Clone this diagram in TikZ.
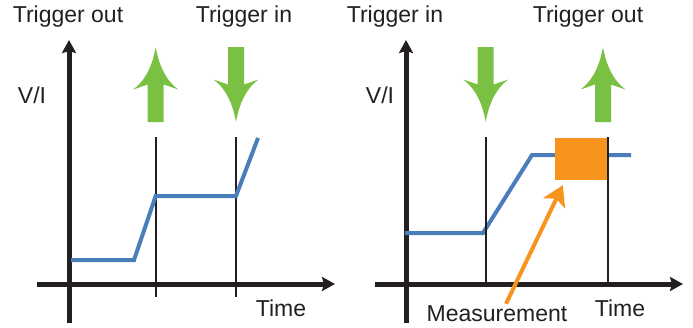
\documentclass[tikz,border=0pt]{standalone}
\usepackage{fontspec}
\setmainfont{Liberation Sans}
\usetikzlibrary{arrows.meta}

\definecolor{trigGreen}{HTML}{7AC143}
\definecolor{curveBlue}{HTML}{4A7EBB}
\definecolor{measOrange}{HTML}{F7941D}
\definecolor{axisBlack}{HTML}{231F20}

\tikzset{
  axis/.style={line width=5pt, draw=axisBlack, -{Stealth[length=13pt,width=14pt,inset=2pt]}},
  marker/.style={line width=2pt, draw=axisBlack},
  curve/.style={line width=4pt, draw=curveBlue, line join=miter},
  lbl/.style={font=\fontsize{23}{26}\selectfont, text=axisBlack, inner sep=0pt},
  measarrow/.style={line width=4pt, draw=measOrange, -{Stealth[length=20pt,width=24pt,inset=5pt]}},
  trig/.pic={
    \fill[trigGreen] (0,-37.5) .. controls (-3,-20) and (-10,-4) .. (-22.5,5)
      -- (-8,0) -- (-8,37.5) -- (8,37.5) -- (8,0) -- (22.5,5)
      .. controls (10,-4) and (3,-20) .. cycle;
  }
}

\begin{document}
\begin{tikzpicture}[x=1pt, y=-1pt]
\useasboundingbox (0,0) rectangle (693,327);

% left: trigger out, then trigger in
\draw[axis] (69,323) -- (69,40);
\draw[axis] (37,284) -- (335,284);
\draw[marker] (155.7,137) -- (155.7,297);
\draw[marker] (236,137) -- (236,297);
\draw[curve] (71,260) -- (134,260) -- (155.7,196) -- (236,196) -- (258,138);
\pic at (155.7,84.5) {trig};
\pic[rotate=180] at (236,84.5) {trig};
\node[lbl] (outL) at (68,17) {Trigger out};
\node[lbl] (inL) at (244,17) {Trigger in};
\node[lbl] (viL) at (32,95) {V/I};
\node[lbl] (timeL) at (281,308) {Time};

% right: trigger in, measure, trigger out
\draw[axis] (406,323) -- (406,40);
\draw[axis] (375,284) -- (683,284);
\draw[curve] (405,233) -- (483,233) -- (532,155) -- (631,155);
\node[fill=measOrange, minimum width=52pt, minimum height=42pt, inner sep=0pt] (box) at (581,159) {};
\draw[marker] (485.7,137) -- (485.7,284);
\draw[marker] (608,137) -- (608,284);
\pic[rotate=180] at (485.7,84.5) {trig};
\pic at (603,84.5) {trig};
\node[lbl] (inR) at (395,17) {Trigger in};
\node[lbl] (outR) at (588,17) {Trigger out};
\node[lbl] (viR) at (380,95) {V/I};
\node[lbl] (timeR) at (620,308) {Time};
\node[lbl] (meas) at (497,314) {Measurement};
\draw[measarrow] ([xshift=9pt,yshift=2pt]meas.north) -- ([xshift=8pt,yshift=-5pt]box.south west);
\end{tikzpicture}
\end{document}
